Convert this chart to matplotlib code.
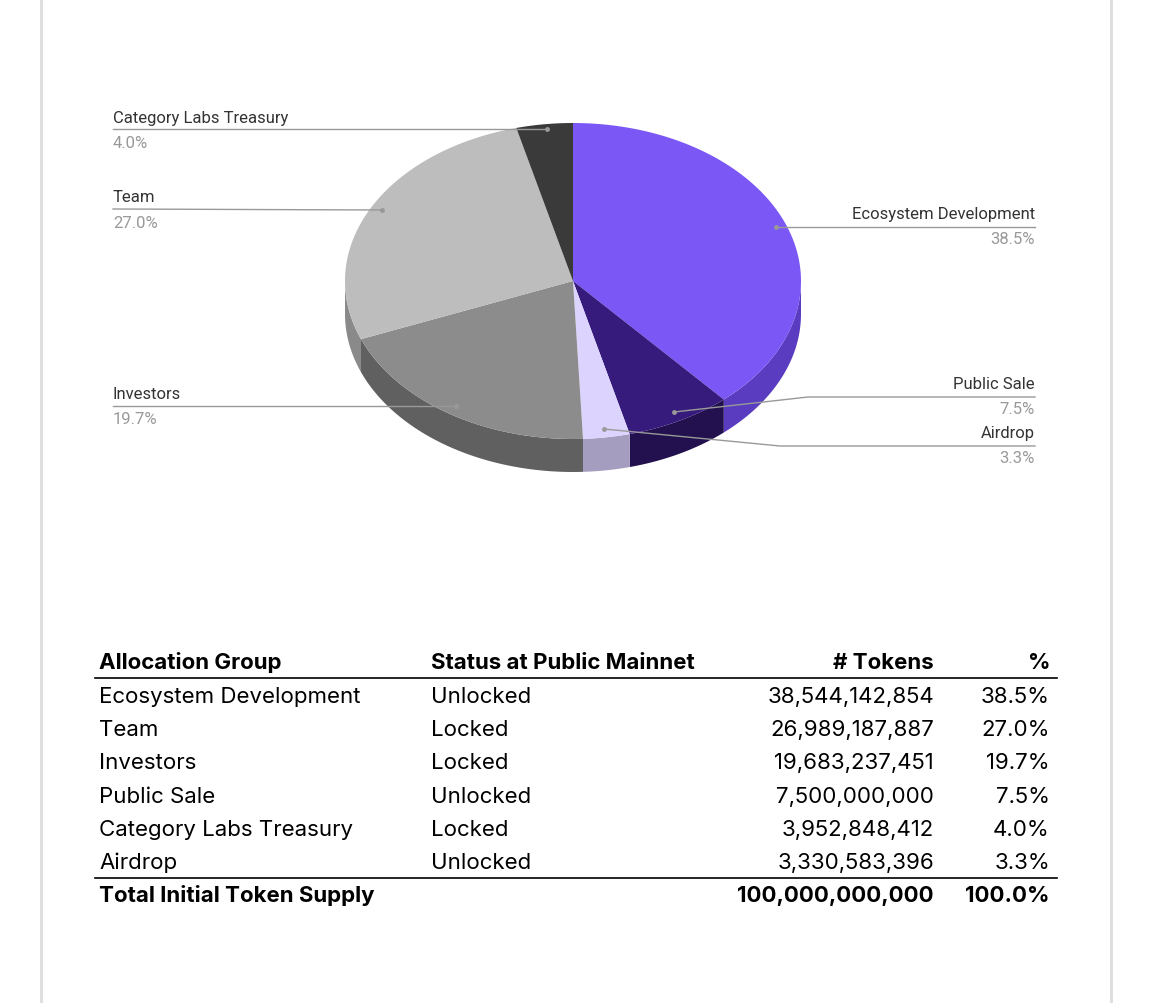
import numpy as np
import matplotlib.pyplot as plt
from matplotlib.patches import Polygon

groups = ["Ecosystem Development", "Public Sale", "Airdrop", "Investors", "Team", "Category Labs Treasury"]
shares = [38.5, 7.5, 3.3, 19.7, 27.0, 4.0]
top_colors = ["#7b57f5", "#361b7c", "#dcd4ff", "#8c8c8c", "#bdbdbd", "#3a3a3a"]
side_colors = ["#5a3cc0", "#22104f", "#a59dbf", "#606060", "#8a8a8a", "#262626"]

table_groups = ["Ecosystem Development", "Team", "Investors", "Public Sale", "Category Labs Treasury", "Airdrop"]
table_status = ["Unlocked", "Locked", "Locked", "Unlocked", "Locked", "Unlocked"]
table_tokens = ["38,544,142,854", "26,989,187,887", "19,683,237,451", "7,500,000,000", "3,952,848,412", "3,330,583,396"]
table_pct = ["38.5%", "27.0%", "19.7%", "7.5%", "4.0%", "3.3%"]

plt.rcParams["font.family"] = "Roboto"
fig = plt.figure(figsize=(11.61, 10.04), dpi=100)
ax = fig.add_axes([0, 0, 1, 1])
ax.set_xlim(0, 1161)
ax.set_ylim(1004, 0)
ax.axis("off")

# page edges
ax.plot([41, 41], [0, 1004], color="#dddddd", lw=2)
ax.plot([1111, 1111], [0, 1004], color="#dddddd", lw=2)

cx, cy, rx, ry, depth = 573, 282, 228, 158, 33

def pt(t):
    return cx + rx * np.sin(t), cy - ry * np.cos(t)

bounds = np.concatenate([[0], np.cumsum(shares)]) / 100 * 2 * np.pi

# side walls (front half only)
for i in range(len(shares)):
    a, b = max(bounds[i], np.pi / 2), min(bounds[i + 1], 3 * np.pi / 2)
    if b <= a:
        continue
    t = np.linspace(a, b, 60)
    x, y = pt(t)
    xs = np.concatenate([x, x[::-1]])
    ys = np.concatenate([y, y[::-1] + depth])
    ax.add_patch(Polygon(np.column_stack([xs, ys]), closed=True, fc=side_colors[i], ec="none"))

# top face
for i in range(len(shares)):
    t = np.linspace(bounds[i], bounds[i + 1], 100)
    x, y = pt(t)
    xs = np.concatenate([[cx], x])
    ys = np.concatenate([[cy], y])
    ax.add_patch(Polygon(np.column_stack([xs, ys]), closed=True, fc=top_colors[i], ec="none"))

# labels
lc = "#999999"
def left_label(name, pct, ty, px, py):
    ax.text(113, ty, name, fontsize=12, color="#333333", va="center")
    ax.text(113, ty + 25, pct, fontsize=12, color="#999999", va="center")
    ax.plot([113, px], [ty + 12, py], color=lc, lw=1)
    ax.plot(px, py, "o", color=lc, ms=2.5)

def right_label(name, pct, ty, px, py, kx):
    ax.text(1035, ty, name, fontsize=12, color="#333333", va="center", ha="right")
    ax.text(1035, ty + 25, pct, fontsize=12, color="#999999", va="center", ha="right")
    ax.plot([px, kx, 1035], [py, ty + 13, ty + 13], color=lc, lw=1)
    ax.plot(px, py, "o", color=lc, ms=2.5)

left_label("Category Labs Treasury", "4.0%", 118, 547, 130)
left_label("Team", "27.0%", 198, 382, 211)
left_label("Investors", "19.7%", 395, 456, 407)
right_label("Ecosystem Development", "38.5%", 215, 776, 228, 776)
right_label("Public Sale", "7.5%", 385, 674, 413, 808)
right_label("Airdrop", "3.3%", 434, 604, 430, 780)

# table
tf = dict(fontsize=16, family="Inter", color="black", va="center")
ax.text(99, 663, "Allocation Group", weight="bold", **tf)
ax.text(431, 663, "Status at Public Mainnet", weight="bold", **tf)
ax.text(934, 663, "# Tokens", weight="bold", ha="right", **tf)
ax.text(1050, 663, "%", weight="bold", ha="right", **tf)
ax.plot([95, 1057], [679, 679], color="black", lw=1.2)
for i in range(len(table_groups)):
    y = 697 + i * 33.2
    ax.text(99, y, table_groups[i], **tf)
    ax.text(431, y, table_status[i], **tf)
    ax.text(934, y, table_tokens[i], ha="right", **tf)
    ax.text(1050, y, table_pct[i], ha="right", **tf)
ax.plot([95, 1057], [879, 879], color="black", lw=1.2)
ax.text(99, 896, "Total Initial Token Supply", weight="bold", **tf)
ax.text(934, 896, "100,000,000,000", weight="bold", ha="right", **tf)
ax.text(1050, 896, "100.0%", weight="bold", ha="right", **tf)

fig.savefig("out.png", dpi=100, facecolor="white")
